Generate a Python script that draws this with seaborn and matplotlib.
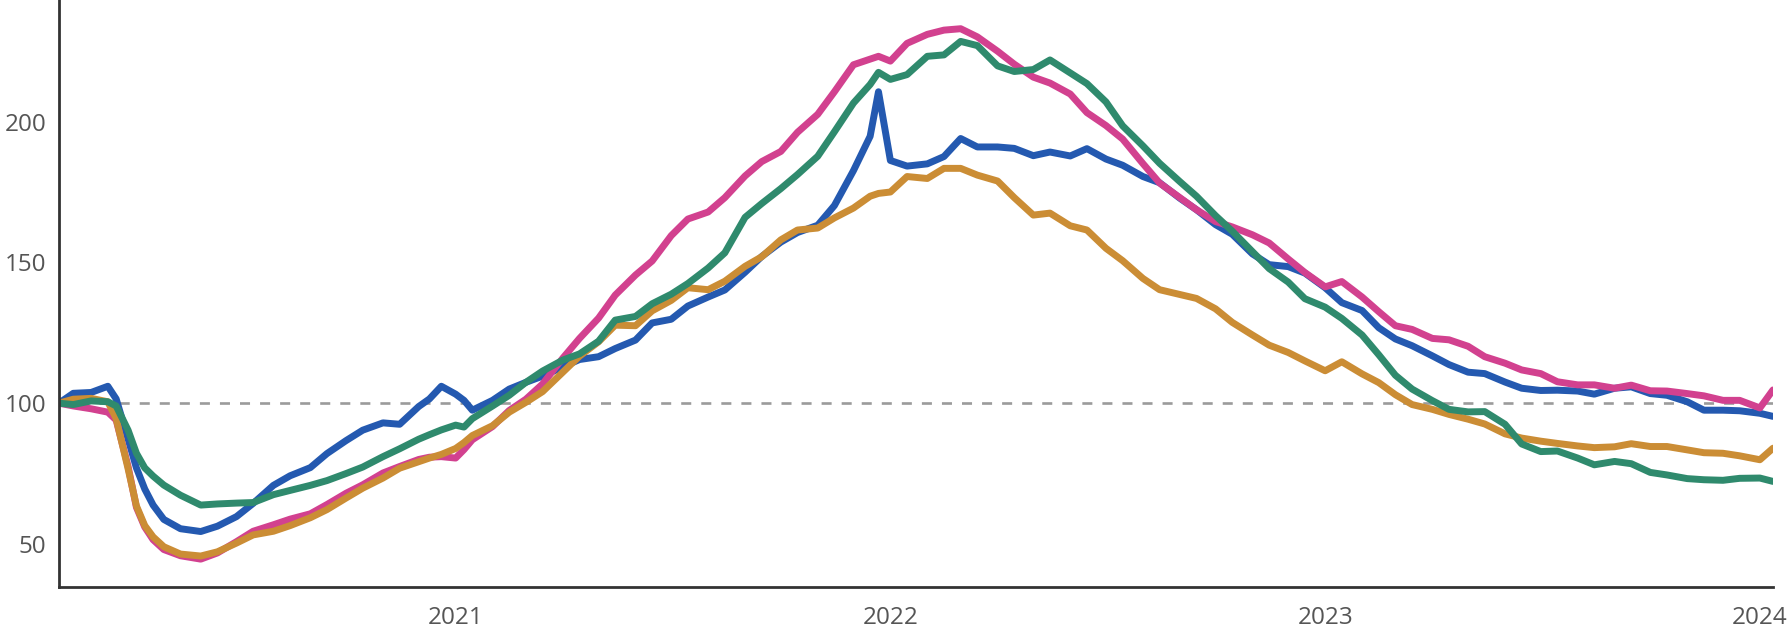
import pandas as pd
import seaborn as sns
import matplotlib.pyplot as plt
import matplotlib.dates as mdates

# datas (quinzenais, com alguns pontos extras na queda de 2020 e no pico de dez/2021)
datas = [
    "2020-02-03", "2020-02-15", "2020-03-01", "2020-03-15", "2020-03-22", "2020-04-01", "2020-04-08",
    "2020-04-15", "2020-04-22", "2020-05-01", "2020-05-15", "2020-06-01", "2020-06-15", "2020-07-01",
    "2020-07-15", "2020-08-01", "2020-08-15", "2020-09-01", "2020-09-15", "2020-10-01", "2020-10-15",
    "2020-11-01", "2020-11-15", "2020-12-01", "2020-12-10", "2020-12-20",
    "2021-01-01", "2021-01-08", "2021-01-15", "2021-02-01", "2021-02-15", "2021-03-01", "2021-03-15", "2021-04-01",
    "2021-04-15", "2021-05-01", "2021-05-15", "2021-06-01", "2021-06-15", "2021-07-01", "2021-07-15",
    "2021-08-01", "2021-08-15", "2021-09-01", "2021-09-15", "2021-10-01", "2021-10-15", "2021-11-01",
    "2021-11-15", "2021-12-01", "2021-12-15", "2021-12-22",
    "2022-01-01", "2022-01-15", "2022-02-01", "2022-02-15", "2022-03-01", "2022-03-15", "2022-04-01",
    "2022-04-15", "2022-05-01", "2022-05-15", "2022-06-01", "2022-06-15", "2022-07-01", "2022-07-15",
    "2022-08-01", "2022-08-15", "2022-09-01", "2022-09-15", "2022-10-01", "2022-10-15", "2022-11-01",
    "2022-11-15", "2022-12-01", "2022-12-15",
    "2023-01-01", "2023-01-15", "2023-02-01", "2023-02-15", "2023-03-01", "2023-03-15", "2023-04-01",
    "2023-04-15", "2023-05-01", "2023-05-15", "2023-06-01", "2023-06-15", "2023-07-01", "2023-07-15",
    "2023-08-01", "2023-08-15", "2023-09-01", "2023-09-15", "2023-10-01", "2023-10-15", "2023-11-01",
    "2023-11-15", "2023-12-01", "2023-12-15",
    "2024-01-01", "2024-01-12",
]

azul = [
    100, 103.5, 103.8, 106.0, 101.5, 87.3, 77.0, 69.5, 63.8, 58.7, 55.4, 54.4, 56.3, 59.7, 64.4, 70.8,
    74.2, 77.1, 82.1, 86.7, 90.4, 93.0, 92.5, 98.8, 101.5, 106.0,
    103.2, 101.0, 97.5, 101.0, 105.0, 107.4, 109.6, 112.9, 115.5, 116.5, 119.4, 122.4, 128.5, 129.8, 134.5,
    137.7, 140.2, 146.5, 152.1, 157.2, 160.6, 163.2, 170.2, 182.6, 194.8, 210.6,
    186.2, 184.2, 185.0, 187.6, 194.0, 191.0, 191.0, 190.5, 187.9, 189.2, 187.8, 190.4, 186.7, 184.5,
    180.5, 178.3, 172.8, 168.7, 163.4, 160.0, 153.0, 149.2, 148.5, 146.2,
    141.0, 135.7, 132.9, 126.8, 122.8, 120.4, 116.8, 113.7, 111.0, 110.5, 107.5, 105.3, 104.5, 104.6,
    104.3, 103.2, 105.3, 105.8, 103.4, 102.8, 100.5, 97.5, 97.5, 97.3,
    96.4, 95.3,
]

verde = [
    100, 99.5, 100.8, 100.5, 99.0, 90.4, 82.2, 77.0, 74.1, 70.9, 67.3, 63.8, 64.2, 64.5, 64.7, 67.5,
    69.0, 70.8, 72.5, 75.0, 77.3, 81.0, 83.8, 87.2, 88.8, 90.5,
    92.2, 91.5, 94.5, 99.0, 102.8, 107.4, 111.4, 115.3, 117.5, 122.0, 129.5, 130.8, 135.3, 138.7, 142.5,
    148.0, 153.4, 166.0, 170.9, 176.2, 181.2, 187.7, 196.4, 206.6, 213.2, 217.5,
    215.0, 216.7, 223.2, 223.7, 228.5, 227.0, 219.8, 217.8, 218.5, 221.9, 217.3, 213.5, 207.0, 198.5,
    191.4, 185.2, 178.7, 173.5, 166.6, 161.1, 153.8, 147.8, 143.0, 137.1,
    134.1, 130.1, 124.2, 117.2, 109.9, 105.0, 100.9, 97.8, 96.9, 97.0, 92.5, 85.5, 82.8, 83.0,
    80.5, 78.1, 79.3, 78.5, 75.4, 74.5, 73.2, 72.8, 72.6, 73.3,
    73.4, 72.2,
]

rosa = [
    100, 99.0, 98.0, 96.8, 94.0, 77.5, 63.0, 56.0, 51.5, 48.0, 45.8, 44.6, 46.8, 50.8, 54.5, 56.8,
    58.8, 60.7, 64.0, 68.0, 71.0, 75.2, 77.5, 80.0, 80.8, 81.0,
    80.5, 83.5, 87.0, 91.7, 97.4, 101.4, 106.8, 116.0, 123.0, 130.2, 138.4, 145.5, 150.5, 159.5, 165.4,
    167.9, 173.0, 180.7, 185.8, 189.4, 196.2, 202.6, 210.6, 220.2, 222.2, 223.2,
    221.5, 227.8, 231.0, 232.5, 233.0, 230.1, 225.0, 220.4, 215.8, 213.7, 209.8, 203.2, 198.6, 193.8,
    185.1, 178.2, 173.0, 168.7, 164.5, 162.6, 159.8, 156.9, 151.2, 146.4,
    141.3, 143.2, 137.7, 132.5, 127.5, 126.2, 123.0, 122.5, 120.2, 116.5, 114.2, 111.8, 110.5, 107.6,
    106.5, 106.5, 105.3, 106.4, 104.4, 104.3, 103.4, 102.6, 101.0, 101.0,
    98.3, 104.7,
]

laranja = [
    100, 101.4, 101.7, 100.5, 94.5, 76.7, 63.5, 56.5, 52.5, 49.0, 46.4, 45.7, 47.2, 50.3, 53.2, 54.5,
    56.5, 59.3, 62.2, 66.3, 69.8, 73.4, 76.9, 79.2, 80.5, 81.8,
    83.9, 86.0, 88.5, 92.0, 96.8, 100.3, 104.1, 111.0, 116.7, 121.8, 127.7, 127.5, 132.8, 136.5, 141.0,
    140.3, 143.3, 148.6, 152.0, 158.0, 161.5, 162.2, 165.8, 169.3, 173.5, 174.5,
    175.0, 180.5, 179.8, 183.4, 183.4, 181.0, 178.9, 173.0, 166.8, 167.5, 163.0, 161.5, 155.0, 150.6,
    144.3, 140.3, 138.6, 137.2, 133.5, 128.7, 124.2, 120.6, 118.0, 115.0,
    111.5, 114.7, 110.4, 107.3, 103.0, 99.5, 97.8, 96.0, 94.3, 92.6, 89.1, 87.6, 86.5, 85.7,
    84.8, 84.2, 84.5, 85.6, 84.6, 84.6, 83.4, 82.4, 82.2, 81.3,
    79.9, 84.0,
]

cores = {"azul": "#2459b0", "rosa": "#d2418f", "laranja": "#cb8d35", "verde": "#2f8a6d"}

df = pd.DataFrame({"data": pd.to_datetime(datas), "azul": azul, "rosa": rosa,
                   "laranja": laranja, "verde": verde})
longo = df.melt(id_vars="data", var_name="serie", value_name="valor")

sns.set_theme(style="white")
plt.rcParams["font.family"] = ["Open Sans", "DejaVu Sans"]

fig = plt.figure(figsize=(17.92, 6.28), dpi=100)
ax = fig.add_axes([59 / 1792, 41 / 628, (1773 - 59) / 1792, 587 / 628])

# linha de referencia em 100
ax.axhline(100, color="#9b9b9b", lw=1.9, ls=(0, (3.8, 3.8)), zorder=1)

sns.lineplot(data=longo, x="data", y="valor", hue="serie",
             hue_order=["azul", "rosa", "laranja", "verde"], palette=cores,
             linewidth=5.0, legend=False, ax=ax, zorder=2,
             solid_joinstyle="round", solid_capstyle="round")

ax.set_xlim(pd.Timestamp("2020-02-03"), pd.Timestamp("2024-01-12"))
ax.set_ylim(34.7, 243.2)
ax.set_xticks(pd.to_datetime(["2021-01-01", "2022-01-01", "2023-01-01", "2024-01-01"]))
ax.xaxis.set_major_formatter(mdates.DateFormatter("%Y"))
ax.set_yticks([50, 100, 150, 200])
ax.set_xlabel("")
ax.set_ylabel("")

ax.tick_params(length=0, labelsize=17.5, labelcolor="#555555")
ax.tick_params(axis="x", pad=13.5)
ax.tick_params(axis="y", pad=9)

sns.despine(ax=ax)
for lado in ["left", "bottom"]:
    ax.spines[lado].set_color("#333333")
    ax.spines[lado].set_linewidth(2.0)

fig.savefig("out.png", dpi=100)
